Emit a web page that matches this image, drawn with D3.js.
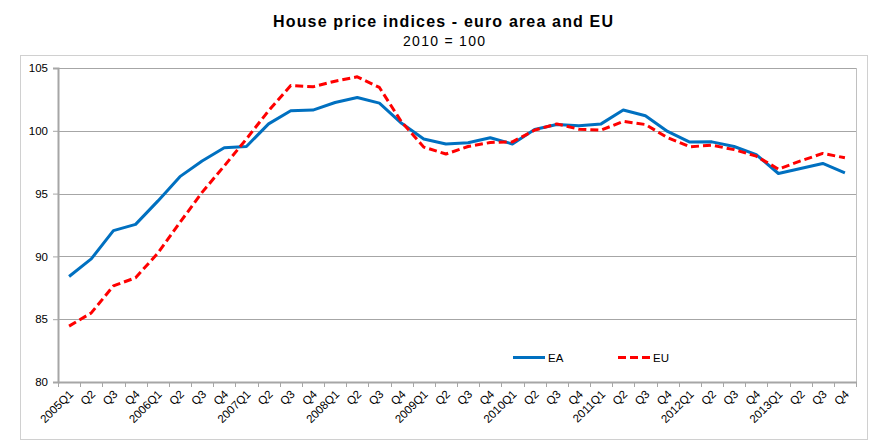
<!DOCTYPE html>
<html>
<head>
<meta charset="utf-8">
<script src="https://cdn.jsdelivr.net/npm/d3@7"></script>
<style>
  body { margin: 0; background: #fff; }
  svg { font-family: "Liberation Sans", Arial, sans-serif; }
</style>
</head>
<body>
<div id="vizHolder"></div>
<script>
var quarters = ['2005Q1','Q2','Q3','Q4','2006Q1','Q2','Q3','Q4','2007Q1','Q2','Q3','Q4',
                '2008Q1','Q2','Q3','Q4','2009Q1','Q2','Q3','Q4','2010Q1','Q2','Q3','Q4',
                '2011Q1','Q2','Q3','Q4','2012Q1','Q2','Q3','Q4','2013Q1','Q2','Q3','Q4'];

var eaValues = [88.4, 89.8, 92.05, 92.55, 94.4, 96.35, 97.6, 98.65, 98.75, 100.55, 101.6, 101.65,
                102.25, 102.65, 102.2, 100.6, 99.35, 98.95, 99.05, 99.45, 98.95, 100.1, 100.5, 100.4,
                100.55, 101.65, 101.2, 99.95, 99.1, 99.12, 98.75, 98.1, 96.6, 97.0, 97.4, 96.65];

var euValues = [84.45, 85.5, 87.65, 88.3, 90.25, 92.7, 95.1, 97.2, 99.35, 101.6, 103.6, 103.5,
                103.95, 104.3, 103.45, 100.7, 98.7, 98.15, 98.75, 99.07, 99.12, 100.05, 100.55, 100.13,
                100.05, 100.75, 100.5, 99.45, 98.73, 98.85, 98.5, 97.98, 96.95, 97.6, 98.2, 97.85];

var yTicks = [80, 85, 90, 95, 100, 105];

var width = 876, height = 445,
    plotLeft = 58, plotRight = 856, plotTop = 68, plotBottom = 382;

var svg = d3.select('#vizHolder').append('svg')
  .attr('width', width)
  .attr('height', height);

// outer chart frame
svg.append('rect')
  .attr('x', 20.5).attr('y', 55.5)
  .attr('width', 847).attr('height', 384)
  .attr('fill', 'none')
  .attr('stroke', '#d0d0d0');

// titles
svg.append('text')
  .attr('x', 443).attr('y', 27)
  .attr('text-anchor', 'middle')
  .attr('textLength', 340)
  .attr('lengthAdjust', 'spacing')
  .style('font-weight', 'bold')
  .style('font-size', '16px')
  .text('House price indices - euro area and EU');

svg.append('text')
  .attr('x', 444).attr('y', 46)
  .attr('text-anchor', 'middle')
  .attr('textLength', 82)
  .attr('lengthAdjust', 'spacing')
  .style('font-size', '14px')
  .text('2010 = 100');

var xScale = d3.scaleBand()
  .domain(d3.range(quarters.length))
  .range([plotLeft, plotRight]);

var yScale = d3.scaleLinear()
  .domain([80, 105])
  .range([plotBottom, plotTop]);

// gridlines
svg.append('g')
  .selectAll('line')
  .data(yTicks.slice(1))
  .enter().append('line')
  .attr('x1', plotLeft).attr('x2', plotRight)
  .attr('y1', function(d) { return Math.round(yScale(d)) + 0.5; })
  .attr('y2', function(d) { return Math.round(yScale(d)) + 0.5; })
  .attr('stroke', '#a6a6a6');

// right plot edge
svg.append('line')
  .attr('x1', plotRight + 0.5).attr('x2', plotRight + 0.5)
  .attr('y1', plotTop).attr('y2', plotBottom)
  .attr('stroke', '#c0c0c0');

// y axis
var yAxis = svg.append('g')
  .attr('transform', 'translate(' + plotLeft + ',0)')
  .call(d3.axisLeft(yScale).tickValues(yTicks).tickSize(5).tickPadding(5));
yAxis.select('.domain').attr('stroke', '#a6a6a6').attr('stroke-width', 2);
yAxis.selectAll('.tick line').attr('stroke', '#a6a6a6');
yAxis.selectAll('text').style('font-size', '11.5px').attr('fill', '#000');

// x axis
var xAxisG = svg.append('g')
  .attr('transform', 'translate(0,' + plotBottom + ')');
xAxisG.append('line')
  .attr('x1', plotLeft).attr('x2', plotRight + 1)
  .attr('y1', 0.5).attr('y2', 0.5)
  .attr('stroke', '#a6a6a6').attr('stroke-width', 2);
xAxisG.selectAll('.xtick')
  .data(d3.range(quarters.length + 1))
  .enter().append('line')
  .attr('x1', function(d) { return Math.round(plotLeft + d * xScale.step()) + 0.5; })
  .attr('x2', function(d) { return Math.round(plotLeft + d * xScale.step()) + 0.5; })
  .attr('y1', 0).attr('y2', 5)
  .attr('stroke', '#a6a6a6');
xAxisG.selectAll('.xlabel')
  .data(quarters)
  .enter().append('text')
  .attr('text-anchor', 'end')
  .attr('transform', function(d, i) {
    return 'translate(' + (xScale(i) + xScale.bandwidth() / 2 + 2) + ',10) rotate(-45)';
  })
  .attr('dy', '0.35em')
  .style('font-size', '11.5px')
  .text(function(d) { return d; });

// lines
var line = d3.line()
  .x(function(d, i) { return xScale(i) + xScale.bandwidth() / 2; })
  .y(function(d) { return yScale(d); });

svg.append('path')
  .datum(eaValues)
  .attr('d', line)
  .attr('fill', 'none')
  .attr('stroke', '#0070c0')
  .attr('stroke-width', 3)
  .attr('stroke-linejoin', 'round');

svg.append('path')
  .datum(euValues)
  .attr('d', line)
  .attr('fill', 'none')
  .attr('stroke', '#ff0000')
  .attr('stroke-width', 3)
  .attr('stroke-dasharray', '8,4')
  .attr('stroke-linejoin', 'round');

// legend
var legend = svg.append('g');
legend.append('line')
  .attr('x1', 513).attr('x2', 545).attr('y1', 357.5).attr('y2', 357.5)
  .attr('stroke', '#0070c0').attr('stroke-width', 3);
legend.append('text')
  .attr('x', 548).attr('y', 361.5)
  .style('font-size', '11.5px')
  .text('EA');
legend.append('line')
  .attr('x1', 618).attr('x2', 651).attr('y1', 357.5).attr('y2', 357.5)
  .attr('stroke', '#ff0000').attr('stroke-width', 3)
  .attr('stroke-dasharray', '8,4');
legend.append('text')
  .attr('x', 653).attr('y', 361.5)
  .style('font-size', '11.5px')
  .text('EU');
</script>
</body>
</html>
